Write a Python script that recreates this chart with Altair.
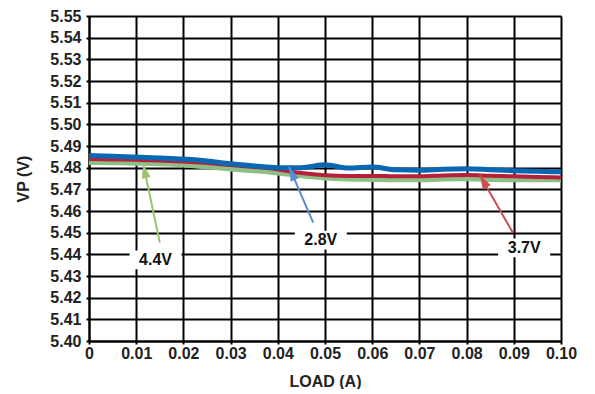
import altair as alt
import pandas as pd

load = [0, 0.005, 0.01, 0.015, 0.02, 0.025, 0.03, 0.035, 0.04, 0.045, 0.05,
        0.055, 0.06, 0.065, 0.07, 0.075, 0.08, 0.085, 0.09, 0.095, 0.10]
v28 = [5.4856, 5.4853, 5.4849, 5.4845, 5.4840, 5.4831, 5.4818, 5.4808, 5.4800, 5.4800, 5.4813,
       5.4798, 5.4803, 5.4790, 5.4788, 5.4793, 5.4795, 5.4790, 5.4786, 5.4783, 5.4781]
v37 = [5.4840, 5.4838, 5.4836, 5.4833, 5.4829, 5.4822, 5.4812, 5.4803, 5.4792, 5.4775, 5.4765,
       5.4762, 5.4762, 5.4760, 5.4760, 5.4764, 5.4766, 5.4763, 5.4760, 5.4757, 5.4755]
v44 = [5.4826, 5.4825, 5.4823, 5.4820, 5.4815, 5.4806, 5.4796, 5.4788, 5.4778, 5.4765, 5.4755,
       5.4750, 5.4748, 5.4746, 5.4746, 5.4750, 5.4751, 5.4748, 5.4746, 5.4746, 5.4746]

series_names = ["4.4V", "3.7V", "2.8V"]
series_vals = [v44, v37, v28]
series_colors = ["#8fbf84", "#b5213b", "#0a67b2"]
series_widths = [6, 4, 5]

# annotations: label, tip (x, y), tail (x, y), label pos (x, y), arrow colour, head angle
ann_labels = ["4.4V", "2.8V", "3.7V"]
ann_tip_x = [0.0115, 0.0424, 0.0828]
ann_tip_y = [5.4816, 5.4803, 5.4766]
ann_tail_x = [0.0150, 0.0475, 0.0898]
ann_tail_y = [5.4454, 5.4546, 5.4500]
ann_lab_x = [0.0141, 0.0491, 0.0922]
ann_lab_y = [5.4374, 5.4466, 5.4430]
ann_colors = ["#9cc46c", "#5a8fcf", "#c9504f"]
ann_angles = [348, 336, 330]

W, H = 472, 325
xs = alt.Scale(domain=[0, 0.10], nice=False)
ys = alt.Scale(domain=[5.40, 5.55], nice=False, zero=False)
xvals = [round(i * 0.01, 2) for i in range(11)]
yvals = [round(5.40 + i * 0.01, 2) for i in range(16)]

layers = []
for name, vals, col, w in zip(series_names, series_vals, series_colors, series_widths):
    df = pd.DataFrame({"load": load, "v": vals})
    layers.append(
        alt.Chart(df).mark_line(color=col, strokeWidth=w, interpolate="monotone").encode(
            x=alt.X("load:Q", scale=xs,
                    axis=alt.Axis(values=xvals, tickCount=20, title="LOAD (A)",
                                  labelExpr="datum.value == 0 ? '0' : format(datum.value, '.2f')")),
            y=alt.Y("v:Q", scale=ys,
                    axis=alt.Axis(values=yvals, tickCount=40, format=".2f", title="VP (V)")),
        )
    )

adf = pd.DataFrame({
    "label": ann_labels, "tx": ann_tip_x, "ty": ann_tip_y,
    "sx": ann_tail_x, "sy": ann_tail_y, "lx": ann_lab_x, "ly": ann_lab_y,
    "col": ann_colors, "ang": ann_angles,
})

shafts = alt.Chart(adf).mark_rule(strokeWidth=2).encode(
    x=alt.X("sx:Q", scale=xs), y=alt.Y("sy:Q", scale=ys),
    x2="tx:Q", y2="ty:Q",
    color=alt.Color("col:N", scale=None),
)
heads = alt.Chart(adf).mark_point(
    shape="M0,0L0.45,1.4L-0.45,1.4Z", filled=True, opacity=1, size=400
).encode(
    x=alt.X("tx:Q", scale=xs), y=alt.Y("ty:Q", scale=ys),
    color=alt.Color("col:N", scale=None),
    angle=alt.Angle("ang:Q", scale=None),
)
boxes = alt.Chart(adf).mark_point(
    shape="M-1,-0.36L1,-0.36L1,0.36L-1,0.36Z", filled=True, opacity=1,
    color="white", size=2704
).encode(x=alt.X("lx:Q", scale=xs), y=alt.Y("ly:Q", scale=ys))
texts = alt.Chart(adf).mark_text(
    font="Liberation Sans", fontWeight="bold", fontSize=16, color="#111111"
).encode(x=alt.X("lx:Q", scale=xs), y=alt.Y("ly:Q", scale=ys), text="label:N")

chart = alt.layer(*layers, shafts, heads, boxes, texts).properties(
    width=W, height=H, padding={"left": 7, "top": 0, "right": 5, "bottom": 0}
).configure_view(stroke=None).configure_axis(
    grid=True, gridColor="black", gridWidth=2, gridOpacity=1,
    domainColor="black", domainWidth=2, tickColor="black", tickSize=3, tickWidth=2,
    labelFont="Liberation Sans", labelFontWeight="bold", labelFontSize=16, labelColor="#222222",
    titleFont="Liberation Sans", titleFontWeight="bold", titleFontSize=16, titleColor="#222222",
    labelOverlap=False,
).configure_axisY(labelPadding=5, titlePadding=18).configure_axisX(
    labelPadding=1, titlePadding=12, labelFlush=False
)

chart.save("out.html", embed_options={"renderer": "svg", "actions": False})
